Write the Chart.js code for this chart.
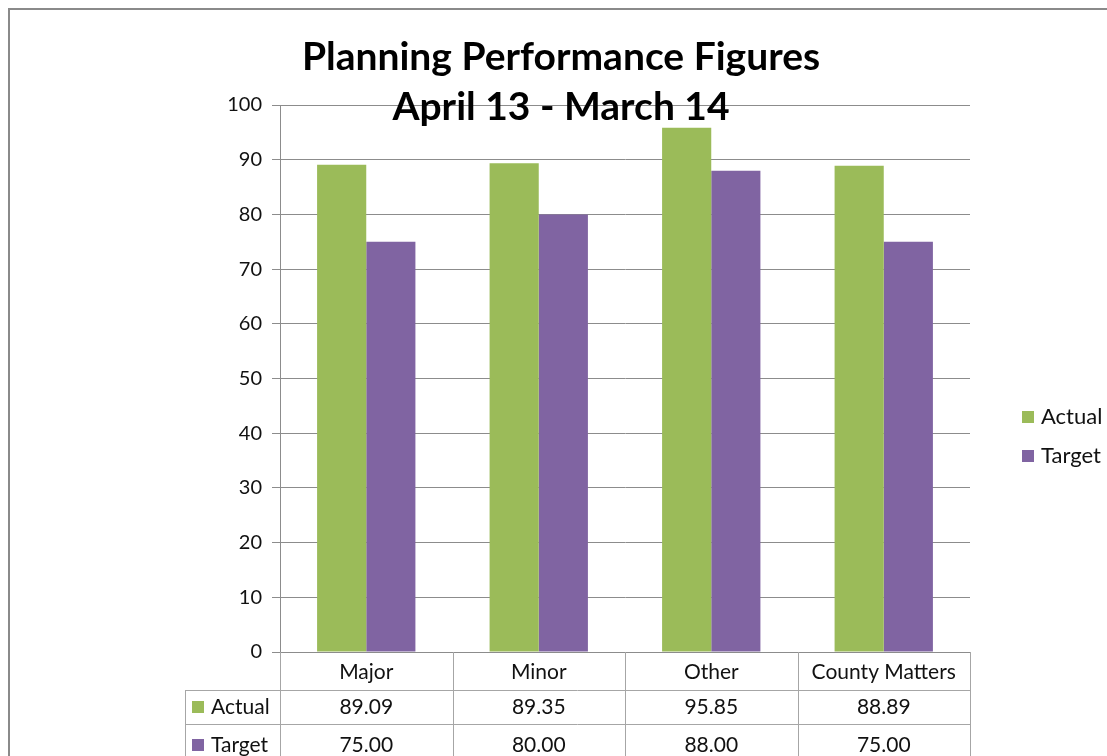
<!DOCTYPE html>
<html>
<head>
<meta charset="utf-8">
<script src="https://cdn.jsdelivr.net/npm/chart.js@4/dist/chart.umd.min.js"></script>
<style>
  body { margin: 0; background: #fff; }
  canvas { display: block; }
</style>
</head>
<body>
<canvas id="perf" width="1107" height="756"></canvas>
<script>
const categories = ['Major', 'Minor', 'Other', 'County Matters'];
const actual = [89.09, 89.35, 95.85, 88.89];
const target = [75.00, 80.00, 88.00, 75.00];
const titleLines = ['Planning Performance Figures', 'April 13 - March 14'];

const FONT = 'Lato, "Open Sans", sans-serif';
const GRID = '#8c8c8c';
const TABLE_LINE = '#a6a6a6';

// draws title, legend, data table and the outer frame
const excelBits = {
  id: 'excelBits',
  afterDraw(chart) {
    const ctx = chart.ctx;
    const x = chart.scales.x;
    const area = chart.chartArea;
    const sets = chart.data.datasets;
    ctx.save();

    // outer frame (only left/top visible in the crop)
    ctx.strokeStyle = '#8a8a8a';
    ctx.lineWidth = 2;
    ctx.strokeRect(9, 9, 1200, 900);

    // data table
    const colW = (area.right - area.left) / categories.length;
    const rowTop = [area.bottom, 690, 724, 760];
    const rowMid = [672, 707, 745];
    const labelLeft = 185;
    ctx.strokeStyle = TABLE_LINE;
    ctx.lineWidth = 1;
    ctx.beginPath();
    for (let i = 0; i <= categories.length; i++) {
      const px = Math.round(area.left + i * colW) + 0.5;
      ctx.moveTo(px, area.bottom);
      ctx.lineTo(px, rowTop[3]);
    }
    ctx.moveTo(labelLeft + 0.5, rowTop[1]);
    ctx.lineTo(labelLeft + 0.5, rowTop[3]);
    ctx.moveTo(labelLeft, rowTop[1] + 0.5);
    ctx.lineTo(area.right, rowTop[1] + 0.5);
    ctx.moveTo(labelLeft, rowTop[2] + 0.5);
    ctx.lineTo(area.right, rowTop[2] + 0.5);
    ctx.stroke();

    ctx.fillStyle = '#111';
    ctx.font = '21px ' + FONT;
    ctx.textAlign = 'center';
    ctx.textBaseline = 'middle';
    categories.forEach((c, i) => {
      const cx = x.getPixelForValue(i);
      ctx.fillText(c, cx, rowMid[0]);
      sets.forEach((ds, j) => {
        ctx.fillText(ds.data[i].toFixed(2), cx, rowMid[j + 1]);
      });
    });
    sets.forEach((ds, j) => {
      const cy = rowMid[j + 1];
      ctx.fillStyle = ds.backgroundColor;
      ctx.fillRect(192, cy - 6, 12, 12);
      ctx.fillStyle = '#111';
      ctx.textAlign = 'left';
      ctx.fillText(ds.label, 211, cy);
    });

    // legend
    ctx.font = '22px ' + FONT;
    sets.forEach((ds, j) => {
      const cy = 417 + j * 39;
      ctx.fillStyle = ds.backgroundColor;
      ctx.fillRect(1022, cy - 6, 12, 12);
      ctx.fillStyle = '#111';
      ctx.textAlign = 'left';
      ctx.fillText(ds.label, 1041, cy);
    });

    // title
    ctx.fillStyle = '#000';
    ctx.font = 'bold 39px ' + FONT;
    ctx.textAlign = 'center';
    ctx.fillText(titleLines[0], 561, 57);
    ctx.fillText(titleLines[1], 561, 107);
    ctx.restore();
  }
};

new Chart(document.getElementById('perf'), {
  type: 'bar',
  data: {
    labels: categories,
    datasets: [
      { label: 'Actual', data: actual, backgroundColor: '#9bbb59' },
      { label: 'Target', data: target, backgroundColor: '#8064a2' }
    ]
  },
  options: {
    responsive: false,
    animation: false,
    layout: { padding: { left: 0, right: 137, top: 105, bottom: 104 } },
    plugins: { legend: { display: false }, tooltip: { enabled: false } },
    datasets: { bar: { categoryPercentage: 0.57, barPercentage: 1 } },
    scales: {
      x: {
        ticks: { display: false },
        grid: { display: false, drawTicks: false },
        border: { display: true, color: GRID },
        afterFit: s => { s.height = 0; }
      },
      y: {
        min: 0,
        max: 100,
        ticks: { stepSize: 10, padding: 10, color: '#111', font: { family: FONT, size: 20 } },
        grid: { color: GRID, tickLength: 8 },
        border: { display: true, color: GRID },
        afterFit: s => { s.width = 280; }
      }
    }
  },
  plugins: [excelBits]
});
</script>
</body>
</html>
